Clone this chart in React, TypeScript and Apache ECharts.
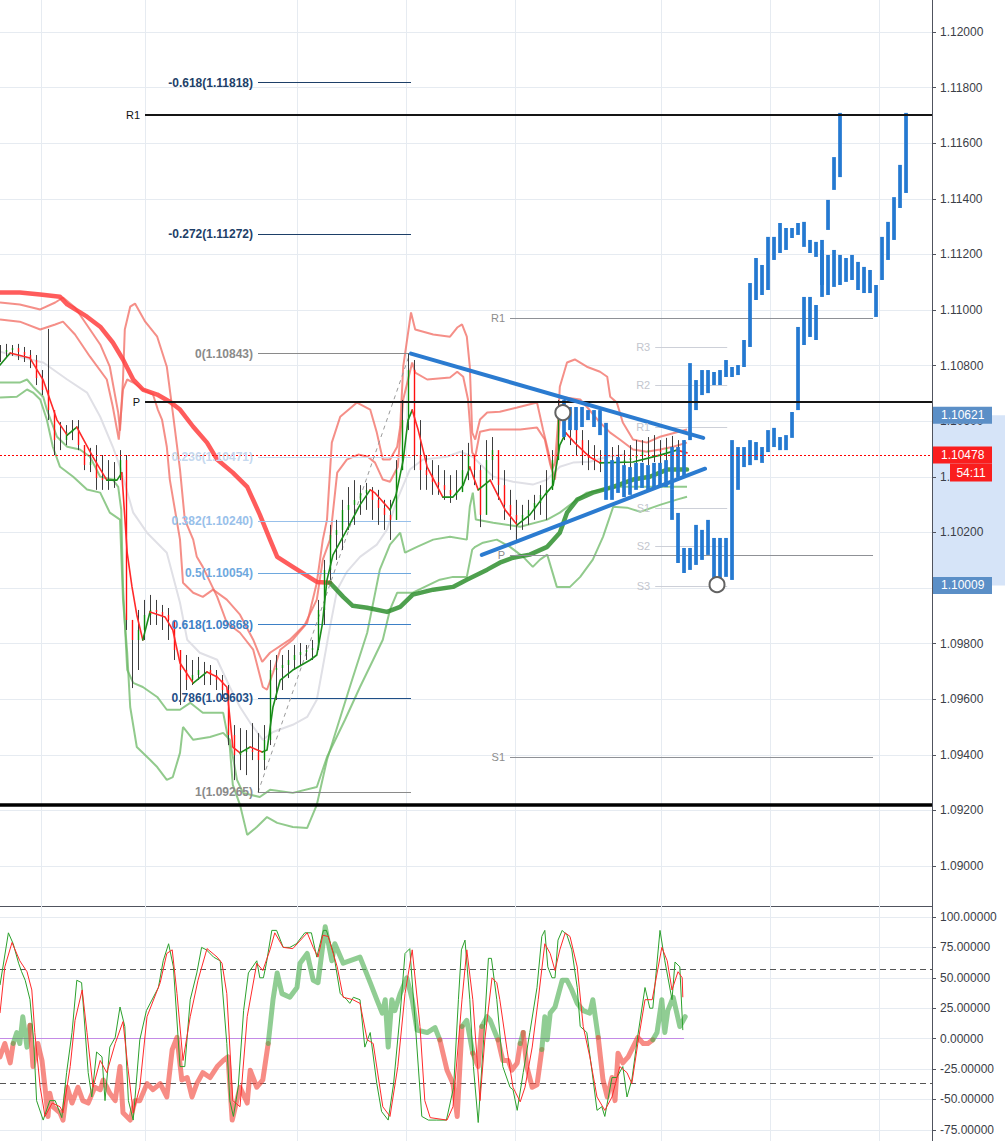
import React, { useEffect, useRef } from "react";
import * as echarts from "echarts";

// ---------------- axes ----------------
const X_MAX = 155.33;
const PRICE_MIN = 1.088561;
const PRICE_MAX = 1.121151;
const OSC_MIN = -84.2;
const OSC_MAX = 109.05;

const priceTicks = [1.09, 1.092, 1.094, 1.096, 1.098, 1.1, 1.102, 1.104, 1.106, 1.108, 1.11, 1.112, 1.114, 1.116, 1.118, 1.12];
// 1.10000 sits completely under the range-low tag in the reference, so its label is not drawn
const priceLabelTicks = [1.09, 1.092, 1.094, 1.096, 1.098, 1.102, 1.104, 1.106, 1.108, 1.11, 1.112, 1.114, 1.116, 1.118, 1.12];
const oscTicks = [-75, -50, -25, 0, 25, 50, 75, 100];
const sessionStarts = [6.83, 24.17, 49.5, 67.67, 85.83, 110.17, 128.33, 146.5];

// ---------------- main instrument bars [high, low, close] (bar index = position) ----------------
const mainBars = [
  [1.10874, 1.10813, 1.10849], [1.10878, 1.10827, 1.10856], [1.10874, 1.10835, 1.10863], [1.10878, 1.1082, 1.10849],
  [1.10867, 1.10813, 1.10838], [1.10856, 1.10791, 1.1082], [1.10838, 1.1073, 1.10755], [1.10784, 1.10694, 1.10712],
  [1.10932, 1.10604, 1.1064], [1.10604, 1.10478, 1.10532], [1.10597, 1.10496, 1.10532], [1.10586, 1.10514, 1.10561],
  [1.10604, 1.10532, 1.10568], [1.10604, 1.10496, 1.10514], [1.10514, 1.10424, 1.10442], [1.10504, 1.10417, 1.10453],
  [1.10514, 1.10353, 1.10396], [1.10478, 1.10353, 1.10388], [1.1046, 1.10353, 1.10388], [1.10453, 1.1036, 1.10396],
  [1.10496, 1.10388, 1.1046], [1.10478, 1.09849, 1.09885], [1.09885, 1.0964, 1.09813], [1.09921, 1.09705, 1.09849],
  [1.09957, 1.09813, 1.09903], [1.09975, 1.09867, 1.09921], [1.09957, 1.09867, 1.09914], [1.09939, 1.09849, 1.09903],
  [1.09928, 1.09813, 1.09885], [1.09885, 1.09741, 1.09777], [1.09759, 1.09579, 1.09705], [1.09759, 1.09633, 1.09669],
  [1.09741, 1.09651, 1.09687], [1.09752, 1.09669, 1.09705], [1.09734, 1.09651, 1.09705], [1.09723, 1.09651, 1.09687],
  [1.09705, 1.09633, 1.09669], [1.09687, 1.09597, 1.09633], [1.09651, 1.09435, 1.09471], [1.09507, 1.09309, 1.09399],
  [1.09496, 1.09345, 1.0941], [1.09489, 1.09327, 1.09417], [1.09514, 1.09381, 1.0941], [1.09478, 1.09265, 1.09381],
  [1.09507, 1.09345, 1.09453], [1.09741, 1.09435, 1.09705], [1.09759, 1.09597, 1.09712], [1.09759, 1.09633, 1.09723],
  [1.09777, 1.09676, 1.09741], [1.09795, 1.09705, 1.09759], [1.09802, 1.09723, 1.0977], [1.09795, 1.09741, 1.09777],
  [1.09813, 1.09741, 1.09784], [1.09957, 1.09777, 1.09921], [1.10101, 1.09867, 1.10065], [1.10227, 1.10029, 1.10191],
  [1.10245, 1.10101, 1.10209], [1.10317, 1.10137, 1.10281], [1.10363, 1.10209, 1.10299], [1.10388, 1.10227, 1.10317],
  [1.1037, 1.10263, 1.10342], [1.10378, 1.10281, 1.10353], [1.10363, 1.10245, 1.10317], [1.10353, 1.10227, 1.10288],
  [1.10317, 1.10209, 1.10263], [1.10317, 1.10173, 1.10245], [1.1046, 1.10245, 1.10424], [1.10676, 1.10424, 1.10604],
  [1.10843, 1.10568, 1.10784], [1.1082, 1.10424, 1.10478], [1.10604, 1.10353, 1.10424], [1.10478, 1.10353, 1.10406],
  [1.1046, 1.10335, 1.10381], [1.10442, 1.10335, 1.1037], [1.10424, 1.10317, 1.10353], [1.10406, 1.10306, 1.10335],
  [1.10424, 1.10317, 1.10345], [1.10496, 1.10353, 1.10424], [1.10522, 1.10388, 1.10478], [1.10478, 1.1037, 1.10424],
  [1.10442, 1.10219, 1.10263], [1.10532, 1.10317, 1.1046], [1.10543, 1.10388, 1.10496], [1.1046, 1.10317, 1.1037],
  [1.10424, 1.10245, 1.10299], [1.10353, 1.10209, 1.10263], [1.10317, 1.10162, 1.10245], [1.10299, 1.10209, 1.10263],
  [1.10317, 1.10227, 1.10281], [1.10335, 1.10245, 1.10306], [1.1037, 1.10263, 1.10335], [1.10424, 1.10245, 1.10353],
  [1.10496, 1.10353, 1.1046], [1.10676, 1.10496, 1.1064], [1.10683, 1.10532, 1.10586], [1.1064, 1.10514, 1.10568],
  [1.10604, 1.10478, 1.10532], [1.10568, 1.10442, 1.10478], [1.10532, 1.10424, 1.10468], [1.10514, 1.10424, 1.1046],
  [1.10496, 1.10417, 1.10453], [1.10496, 1.10424, 1.1045], [1.10507, 1.10432, 1.1046], [1.10514, 1.10417, 1.10453],
  [1.10496, 1.10424, 1.1046], [1.10514, 1.10432, 1.10468], [1.10532, 1.10442, 1.10478], [1.10532, 1.10453, 1.10489],
  [1.10543, 1.10442, 1.10496], [1.1055, 1.10453, 1.10496], [1.10532, 1.10442, 1.10489], [1.1054, 1.10453, 1.10504],
  [1.10547, 1.1046, 1.10496], [1.10532, 1.10442, 1.10478], [1.10532, 1.10442, 1.10482],
];

// ---------------- overlay instrument (blue) [high, low] ----------------
const blueAStart = 94;
const blueA = [
  [1.10676, 1.10543], [1.10651, 1.10568], [1.10651, 1.10568], [1.10651, 1.10579], [1.1064, 1.10604], [1.1064, 1.10579],
  [1.1064, 1.1055], [1.10594, 1.10317], [1.1046, 1.10317], [1.10471, 1.10342], [1.10442, 1.10327], [1.10435, 1.10335],
  [1.1045, 1.10353], [1.1045, 1.1036], [1.10442, 1.10353], [1.1045, 1.10363], [1.1045, 1.1037], [1.1046, 1.10363],
  [1.10507, 1.10353], [1.10507, 1.10396], [1.10532, 1.10396], [1.10809, 1.10532], [1.10748, 1.1064], [1.10784, 1.10694],
  [1.10784, 1.10701], [1.10777, 1.1073], [1.10784, 1.1073], [1.1082, 1.10759], [1.10795, 1.10759], [1.10802, 1.10766],
  [1.10892, 1.10795], [1.11097, 1.10867], [1.11187, 1.11036], [1.11162, 1.11054], [1.11263, 1.11072], [1.11263, 1.1118],
  [1.11313, 1.11205], [1.11295, 1.11216], [1.11295, 1.11259], [1.11313, 1.1127], [1.11317, 1.11227], [1.11252, 1.11205],
  [1.11245, 1.11191], [1.11216, 1.1109], [1.11396, 1.11288], [1.1155, 1.11432], [1.11709, 1.11478],
];
const blueBStart = 112;
const blueB = [
  [1.10353, 1.10245], [1.1027, 1.1009], [1.10144, 1.10054], [1.10144, 1.10065], [1.10227, 1.10083], [1.10209, 1.10101],
  [1.10245, 1.10119], [1.1018, 1.10036], [1.1018, 1.10011], [1.1018, 1.1004], [1.10532, 1.10029], [1.10507, 1.10353],
  [1.10507, 1.10435], [1.10532, 1.10442], [1.10525, 1.1046], [1.10507, 1.1045], [1.10568, 1.10489], [1.10576, 1.10507],
  [1.10543, 1.10496], [1.1055, 1.10496], [1.10633, 1.1054], [1.10939, 1.1064], [1.11047, 1.10874], [1.11047, 1.10903],
  [1.11018, 1.10892], [1.11252, 1.11047], [1.11198, 1.11054], [1.11216, 1.11083], [1.11198, 1.1109], [1.11187, 1.11101],
  [1.11198, 1.11108], [1.11173, 1.11072], [1.11155, 1.11061], [1.11144, 1.11061], [1.1109, 1.10975], [1.11263, 1.11108],
  [1.11317, 1.1118], [1.11406, 1.11252], [1.11522, 1.11367], [1.11709, 1.11421],
];

// ---------------- indicator lines [bar index, price] ----------------
const fastMa = [
  [0, 1.10802], [1.7, 1.10845], [5, 1.10827], [7.2, 1.10748], [9.5, 1.10604], [11.2, 1.1055], [12.8, 1.10579], [15.5, 1.10471],
  [17.8, 1.10388], [19.5, 1.10388], [20.3, 1.10414], [21.2, 1.10126], [22, 1.10004], [22.8, 1.09903], [23.8, 1.09813], [25, 1.09914],
  [27.5, 1.09896], [28.8, 1.09849], [30, 1.0973], [32.2, 1.09658], [34.5, 1.09698], [36.2, 1.0968], [37.8, 1.09644], [38.8, 1.09428],
  [40, 1.09407], [41.7, 1.09428], [43.7, 1.0941], [44.5, 1.09417], [45.5, 1.09572], [46.7, 1.09669], [48.8, 1.09705], [51.7, 1.09741],
  [52.8, 1.09759], [53.7, 1.09867], [54.5, 1.10029], [55.5, 1.10119], [57.8, 1.10209], [60, 1.10299], [61.7, 1.10353], [62.5, 1.10342],
  [65, 1.10281], [66, 1.10335], [67.2, 1.1046], [68, 1.10604], [68.7, 1.1064], [69.7, 1.10568], [71.2, 1.10435], [73.8, 1.10327],
  [75.5, 1.10327], [77.2, 1.1037], [78.3, 1.10435], [79.7, 1.10353], [81.7, 1.10388], [84.2, 1.10281], [86.2, 1.10227], [88.3, 1.10263],
  [90.8, 1.10335], [92.2, 1.1037], [93.3, 1.10514], [94.3, 1.10558], [95.8, 1.10522], [98.3, 1.10471], [100, 1.1045], [105.5, 1.10453],
  [110, 1.10478], [112.8, 1.10496], [114.5, 1.10486],
];
const slowMa = [
  [0, 1.11063], [3.3, 1.11063], [6.7, 1.11056], [10, 1.11048], [11.2, 1.1102], [14.5, 1.10976], [16.7, 1.1094], [18.8, 1.10883],
  [20.5, 1.10822], [22.2, 1.1075], [23.8, 1.10714], [26.2, 1.10696], [28.3, 1.1067], [30, 1.10642], [32.2, 1.1058], [34.5, 1.10523],
  [36.2, 1.10462], [38.8, 1.10415], [41.2, 1.10364], [43.3, 1.10264], [45, 1.10174], [46.2, 1.10112], [48.8, 1.10076], [52.8, 1.10022],
  [55, 1.10019], [57.2, 1.09968], [58.8, 1.09936], [61.2, 1.09929], [64.5, 1.09914], [66.7, 1.09932], [68.8, 1.09976], [72.2, 1.09994],
  [75.5, 1.10004], [77.8, 1.1003], [81.2, 1.10066], [83.3, 1.10091], [85.5, 1.10109], [88.3, 1.1012], [91.2, 1.10148], [93.3, 1.10199],
  [94.5, 1.10271], [96.2, 1.10318], [98.8, 1.10343], [102.2, 1.10364], [105.5, 1.1039], [108.3, 1.104], [111.2, 1.10426], [114.5, 1.10426],
];
const slowMaTurnIdx = 54.5;
const midBand = [
  [0, 1.1085], [5, 1.10822], [7.2, 1.10811], [11.2, 1.1075], [14.5, 1.10703], [16.7, 1.10616], [18.8, 1.10508], [20, 1.10436],
  [22.2, 1.10271], [24.5, 1.10199], [27.8, 1.10127], [30, 1.09947], [31.2, 1.09814], [33.3, 1.09767], [36.2, 1.09742], [38.3, 1.09644],
  [40, 1.09572], [41.7, 1.09515], [43.8, 1.09454], [45.5, 1.09482], [48.8, 1.09508], [51.2, 1.09536], [52.8, 1.09598], [53.8, 1.09716],
  [55, 1.0986], [56.2, 1.09994], [57.8, 1.10058], [60, 1.10112], [62.8, 1.10156], [64.5, 1.1021], [66.2, 1.10318], [68.3, 1.10426],
  [70.5, 1.10462], [74.5, 1.10472], [76.7, 1.1049], [78.8, 1.10472], [82.2, 1.104], [85.5, 1.10382], [88.8, 1.10372], [91.2, 1.1039],
  [93.3, 1.10436], [95.5, 1.10451], [98.3, 1.10454], [101.2, 1.10472], [104.2, 1.1048],
];
const upperOuter = [
  [0, 1.11027], [3.3, 1.1102], [6.7, 1.11002], [9.2, 1.11027], [10.5, 1.11045], [12.5, 1.11009], [15, 1.1093], [16.7, 1.10876],
  [18.3, 1.10796], [19.7, 1.10631], [20, 1.10566], [20.5, 1.1075], [20.8, 1.1093], [21.7, 1.11012], [22.5, 1.11023], [24.2, 1.10958],
  [26.2, 1.10904], [27.8, 1.10796], [28.8, 1.10631], [30, 1.10426], [30.8, 1.10246], [32.2, 1.10174], [32.8, 1.10112], [33.8, 1.10076],
  [36.2, 1.09968], [37.8, 1.09875], [40, 1.09839], [42.2, 1.09778], [43.8, 1.09644], [44.5, 1.09634], [45.5, 1.09695], [46.7, 1.09778],
  [48.8, 1.09814], [51.2, 1.09875], [52.8, 1.10019], [53.8, 1.10174], [54.5, 1.10246], [55.3, 1.10523], [56.7, 1.10616], [59.5, 1.10667],
  [61.7, 1.10642], [62.8, 1.10559], [63.8, 1.10462], [65, 1.10462], [66.2, 1.10508], [66.7, 1.1058], [67.2, 1.10796], [68.5, 1.10991],
  [69.2, 1.1093], [72.2, 1.10912], [75, 1.10904], [76.2, 1.10937], [77, 1.10948], [77.8, 1.10904], [78.3, 1.10796], [78.7, 1.10559],
  [79.2, 1.10534], [80, 1.10606], [81.2, 1.10631], [83.3, 1.10634], [86.2, 1.10649], [89.5, 1.10667], [90.5, 1.1057], [91.3, 1.10498],
  [92, 1.10426], [92.5, 1.10451], [93, 1.10595], [93.3, 1.10724], [94.5, 1.10811], [95.8, 1.10822], [97.8, 1.10796], [100, 1.10778],
  [101.2, 1.1076], [101.7, 1.10688], [102.8, 1.10667], [103.8, 1.10595], [105.5, 1.10534], [107.8, 1.10523], [110, 1.10544], [114.5, 1.1057],
];
const upperInner = [
  [0, 1.10966], [3.3, 1.10958], [6.7, 1.1093], [9.2, 1.10948], [10.5, 1.10958], [12.5, 1.10912], [15, 1.10832], [17.8, 1.1075],
  [18.8, 1.10652], [19.8, 1.10534], [20.5, 1.10714], [21.2, 1.1075], [22.2, 1.10739], [23.8, 1.10714], [25.5, 1.10696], [26.3, 1.10642],
  [27, 1.10606], [27.8, 1.10508], [28.3, 1.1039], [30, 1.10174], [30.5, 1.10019], [32.2, 1.09983], [33.8, 1.09968], [35.5, 1.09994],
  [37.8, 1.09958], [40, 1.09904], [42.2, 1.09814], [43.7, 1.09734], [45, 1.09767], [48.3, 1.09814], [50.8, 1.09868], [52.8, 1.09958],
  [53.8, 1.10102], [55, 1.10174], [56.2, 1.10415], [57.8, 1.10462], [59.7, 1.1048], [61.3, 1.10472], [62.5, 1.10451], [63.8, 1.1039],
  [65, 1.10382], [66.3, 1.10436], [67.2, 1.10678], [68.7, 1.10811], [69.2, 1.10775], [71.2, 1.1075], [75, 1.10757], [76.2, 1.10778],
  [77.2, 1.1076], [78, 1.10678], [78.7, 1.10487], [79.2, 1.10472], [80, 1.10562], [81.7, 1.1057], [86.7, 1.1057], [89.5, 1.10577],
  [90.8, 1.10534], [91.7, 1.10444], [92.5, 1.1039], [93.3, 1.10606], [94.2, 1.10685], [96.7, 1.10678], [97.8, 1.10652], [100, 1.10595],
  [101.7, 1.10559], [103.3, 1.10534], [105.5, 1.10498], [107.8, 1.1049], [110, 1.10498], [112.2, 1.10508], [114.5, 1.10523],
];
const lowerInner = [
  [0, 1.10739], [3.3, 1.10739], [4.5, 1.1075], [5.5, 1.10724], [7.2, 1.10688], [7.8, 1.10642], [9.5, 1.10544], [11.2, 1.10508],
  [13.3, 1.10498], [15, 1.10472], [16.7, 1.104], [18.8, 1.1039], [19.7, 1.10364], [20.2, 1.10282], [20.5, 1.10004], [21.2, 1.09706],
  [22.2, 1.09659], [23.8, 1.09644], [26.2, 1.09608], [27.8, 1.09562], [30, 1.09562], [31.7, 1.09587], [33.8, 1.09551], [37.2, 1.09551],
  [38.3, 1.09428], [38.8, 1.09292], [40, 1.0922], [41.2, 1.09112], [42.8, 1.0914], [44.5, 1.09176], [46.2, 1.09155], [48.8, 1.0914],
  [51.2, 1.09137], [52.8, 1.0922], [54.5, 1.09382], [58.3, 1.09644], [61.2, 1.09839], [63.3, 1.10066], [65, 1.10156], [66.7, 1.10199],
  [67.5, 1.10127], [69.5, 1.10148], [72.2, 1.10174], [75, 1.10184], [77.8, 1.10174], [78.3, 1.10292], [78.8, 1.10343], [79.3, 1.10246],
  [82.2, 1.10235], [86.7, 1.1022], [91.2, 1.10246], [93.3, 1.10271], [95.5, 1.10307], [97.8, 1.10343], [100.5, 1.10354], [103.3, 1.10364],
  [114.5, 1.10364],
];
const lowerOuter = [
  [0, 1.10685], [2.8, 1.10688], [4.5, 1.10714], [5.5, 1.10703], [6.7, 1.10678], [7.8, 1.10606], [8.8, 1.10508], [10, 1.10436],
  [12.2, 1.104], [14.5, 1.10354], [16.7, 1.10343], [18.3, 1.10271], [20, 1.10246], [20.5, 1.09958], [21.2, 1.09767], [21.7, 1.09572],
  [22.8, 1.09428], [25, 1.09382], [26.2, 1.09356], [27.8, 1.0931], [28.8, 1.0932], [30, 1.09407], [30.5, 1.095], [32.2, 1.09454],
  [35, 1.09464], [37.2, 1.09479], [38.3, 1.09454], [39.5, 1.0931], [40.5, 1.09263], [43.3, 1.09248], [45, 1.09274], [48.8, 1.09263],
  [52.8, 1.09284], [54.5, 1.09392], [57.5, 1.09526], [60, 1.09644], [62.2, 1.09742], [63.8, 1.09814], [65, 1.09922], [66.2, 1.09983],
  [68.8, 1.09983], [73.3, 1.1003], [75.5, 1.1004], [77.8, 1.1004], [78.7, 1.10138], [79.2, 1.10148], [80.5, 1.10163], [82.8, 1.10174],
  [85, 1.10148], [87.2, 1.10112], [88.8, 1.10076], [90, 1.10102], [91.2, 1.1012], [92.8, 1.10004], [95, 1.10004], [96.7, 1.1004],
  [98.8, 1.10102], [100.5, 1.10184], [102.2, 1.10292], [104.5, 1.10289], [106.7, 1.10274], [110, 1.10299], [112.8, 1.10318], [114.5, 1.10328],
];

// ---------------- levels ----------------
const fibLevels = [-0.618, -0.272, 0, 0.236, 0.382, 0.5, 0.618, 0.786, 1];
const fibPrices = [1.11818, 1.11272, 1.10843, 1.10471, 1.1024, 1.10054, 1.09868, 1.09603, 1.09265];
const fibSpan = [43, 68.5];
const fibSwing = [[43, 1.09265], [68.3, 1.10843]];

const keyLevelNames = ["R1", "P"];
const keyLevelPrices = [1.11701, 1.10669];
const keyLevelFrom = 24.17;
const supportLine = 1.09219;

const dailyPivotNames = ["R1", "P", "S1"];
const dailyPivotPrices = [1.10971, 1.10119, 1.09392];
const dailyPivotSpan = [85, 145.5];

const sessionPivotNames = ["R3", "R2", "R1", "S1", "S2", "S3"];
const sessionPivotPrices = [1.10867, 1.1073, 1.10579, 1.10288, 1.10151, 1.10007];
const sessionPivotSpan = [109.2, 121.2];

const trendLines = [
  [[68.5, 1.10843], [117.2, 1.1054]],
  [[80.3, 1.10119], [117.5, 1.10429]],
];
const swingPoints = [[93.8, 1.10631], [119.5, 1.10012]];

const lastPrice = 1.10478;
const countdown = "54:11";
const rangeHigh = 1.10621;
const rangeLow = 1.10009;

// ---------------- oscillator [bar index, value] ----------------
const oscUpper = 57.2;
const oscLower = -36.6;
const oscZeroEnd = 114;
const stochK = [
  [0, 44], [1.4, 87], [2.2, 78], [3.1, 62], [3.6, 55], [4.2, 48], [5, 32], [5.6, -1], [6.1, -51], [7.2, -67], [8.3, -51], [9.2, -51],
  [10.3, -65], [11.1, -28], [12, 5], [12.8, 48], [13.6, 46], [14.7, -28], [15.3, -48], [16.1, -11], [17, -15], [17.5, -51], [18.3, -7],
  [19.2, 1], [20, 26], [20.8, 10], [21.4, -51], [22.2, -67], [23.3, -1], [24.4, 23], [26.4, 42], [27.2, 64], [28.1, 78], [28.9, 59],
  [30, -23], [30.8, -23], [31.7, 32], [32.8, 54], [33.6, 75], [34.4, 73], [35.6, 67], [36.7, 64], [37.8, -4], [38.3, -51], [38.9, -64],
  [39.7, -40], [40.6, 23], [41.4, 54], [42.8, 64], [43.3, 50], [43.9, 50], [44.4, 62], [45.3, 89], [46.1, 89], [47.2, 75], [48.3, 75],
  [49.4, 78], [50.8, 87], [51.9, 87], [52.8, 67], [53.9, 89], [54.4, 89], [55.6, 70], [56.7, 37], [57.8, 32], [58.3, 29], [58.9, 34],
  [60, 32], [60.8, -7], [61.7, 5], [62.8, -37], [63.6, -60], [64.7, -67], [65.6, -37], [66.7, 21], [67.5, 70], [68.3, 74], [69.2, 13],
  [70.3, -64], [71.4, -67], [72.8, -67], [74.4, -67], [75.6, -40], [76.4, 32], [76.9, 73], [77.5, 81], [78.3, 32], [78.9, -23], [79.7, -69],
  [80.6, -1], [81.4, 66], [81.9, 66], [82.8, 32], [83.8, -23], [85, -40], [85.5, -42], [86.2, -59], [87.2, -28], [88.3, 5], [89.5, 42],
  [90.3, 84], [90.8, 89], [91.3, 59], [92, 50], [92.5, 50], [93, 81], [93.7, 89], [94.5, 85], [95.3, 73], [96.2, 42], [96.7, 10],
  [97.8, 5], [98.7, -28], [99.5, -59], [100.3, -56], [100.8, -64], [102, -32], [102.8, -32], [103.8, -23], [104.5, -48], [105.3, -34],
  [106.2, -1], [107.5, 42], [108.3, 25], [108.8, 25], [110, 89], [110.8, 64], [112, 32], [112.5, 63], [113.3, 59], [113.8, 7],
];
const stochD = [
  [0, 21], [0.8, 59], [2, 79], [3.3, 64], [4.5, 55], [5.3, 40], [5.8, 5], [6.7, -40], [7.5, -64], [8.7, -53], [10, -56], [10.5, -61],
  [11.7, -23], [12.5, 15], [13.7, 40], [14.5, 5], [15.5, -40], [16.7, -18], [17.8, -28], [19.2, -4], [20.5, 14], [21.3, -23], [22.2, -61],
  [23.3, -40], [24.5, 18], [26.7, 46], [27.8, 70], [28.7, 73], [29.5, 37], [30.5, -18], [31.7, 18], [33, 48], [34.5, 74], [36.2, 67],
  [37, 62], [37.8, 37], [38.8, -51], [40, -56], [41.2, 18], [42.8, 62], [43.8, 56], [45, 73], [45.8, 87], [47.2, 75], [48.8, 74],
  [51.2, 87], [52.2, 75], [53, 67], [53.8, 85], [54.7, 84], [56.2, 59], [57.2, 34], [58.8, 32], [60, 29], [61.2, -1], [62.2, -4],
  [63.8, -56], [65, -64], [66.3, -23], [67.5, 37], [68.7, 73], [70, 10], [70.8, -51], [71.7, -65], [74.5, -67], [75.5, -56], [77, 32],
  [77.8, 73], [78.8, 32], [80, -51], [80.8, -1], [82, 50], [82.8, 46], [83.3, 32], [84.5, -9], [85.5, -40], [86.7, -52], [87.5, -40],
  [88.7, -7], [89.7, 32], [90.8, 78], [91.7, 70], [92.5, 56], [93.3, 73], [94.2, 87], [95, 84], [96.2, 59], [97.2, 10], [98.3, -15],
  [99.5, -48], [100.8, -59], [102, -48], [103.3, -23], [104.5, -28], [105.3, -37], [106.3, -4], [107.5, 32], [108.7, 32], [110.3, 75],
  [111.2, 64], [112, 40], [113, 55], [113.7, 50], [113.8, 34],
];
const momentum = [
  [0, -15], [0.8, -4], [1.7, -20], [2.2, -4], [2.8, 5], [3.3, -4], [3.8, 18], [4.5, -7], [5, 11], [5.5, -23], [6.3, -4], [7, -18],
  [7.5, -40], [8, -64], [8.3, -45], [8.8, -56], [10, -61], [10.5, -67], [11.2, -40], [12, -53], [13, -40], [13.8, -51], [14.7, -53],
  [15.8, -40], [16.7, -42], [17.2, -34], [18.3, -45], [19.2, -51], [20, -23], [20.5, -61], [21.7, -67], [22.5, -51], [23.3, -51],
  [24.5, -37], [25.5, -42], [26.7, -37], [27.8, -48], [28.7, -9], [29.5, 1], [30.3, -34], [31.2, -32], [32, -48], [32.8, -37],
  [33.8, -28], [35, -32], [36.2, -23], [37.2, -18], [38, -15], [38.7, -67], [40, -40], [41.2, -53], [41.7, -26], [42.8, -40],
  [43.8, -34], [44.7, -4], [45.5, 32], [46.2, 54], [47, 37], [48.3, 34], [49.5, 42], [50, 62], [51.2, 70], [52.2, 48], [53, 46],
  [54.2, 92], [55.3, 64], [55.8, 78], [57.2, 62], [60, 67], [61.7, 46], [62.8, 32], [63.7, 21], [64.2, 32], [64.7, -7], [65.3, 32],
  [65.8, 23], [66.7, 37], [67.8, 50], [68.7, 32], [69.5, 7], [71.2, 5], [72.5, 9], [73.3, -1], [74.5, -26], [75.5, -37], [76.2, -64],
  [77, 10], [77.8, 15], [78.8, -12], [79.7, -23], [80.3, 10], [81.2, 18], [81.7, 15], [82.5, 5], [83, -1], [83.8, -18], [84.7, -18],
  [85.3, -26], [86.2, -20], [86.7, -4], [87.2, 5], [87.8, -23], [88.7, -40], [89.5, -38], [90.3, -9], [90.8, 18], [91.2, -1],
  [91.7, 21], [92.5, 26], [93.7, 48], [94.5, 48], [95.3, 40], [96.2, 29], [97.2, 23], [98.3, 21], [98.8, 32], [99.7, 1], [100.5, -34],
  [101.2, -48], [102, -32], [102.5, -51], [103, -12], [103.8, -20], [104.7, -15], [105.5, -7], [106.3, 1], [107.2, -4], [108, -4],
  [108.8, -1], [109.5, 5], [110.3, 32], [110.8, 5], [111.3, 23], [112.2, 34], [112.8, 21], [113.3, 10], [114.2, 18],
];

// ---------------- styling ----------------
const FONT = '"Liberation Sans", Arial, sans-serif';
const GRID_COLOR = "#e6ebf1";
const UP = "#1c8c1c";
const DOWN = "#ff2a2a";
const BLUE = "#2479d1";
const fibColors = ["#1d3f68", "#1d3f68", "#8a8a8a", "#c6d9ef", "#98c0ea", "#6ea8de", "#3d80c6", "#1f4f87", "#8a8a8a"];

type Pt = number[];
function colorRuns(points: Pt[], colorOf: (a: Pt, b: Pt) => string) {
  const out: any[] = [];
  let cur: Pt[] = [points[0]];
  let curColor = colorOf(points[0], points[1]);
  for (let k = 1; k < points.length; k++) {
    const col = colorOf(points[k - 1], points[k]);
    if (col !== curColor) {
      out.push({ coords: cur, lineStyle: { color: curColor } });
      cur = [points[k - 1]];
      curColor = col;
    }
    cur.push(points[k]);
  }
  out.push({ coords: cur, lineStyle: { color: curColor } });
  return out;
}

const seg = (a: Pt, b: Pt, style: any) => ({ coords: [a, b], lineStyle: style });

function buildOption(): any {
  const mainGrid = [
    ...priceTicks.map((p) => seg([0, p], [X_MAX, p], { color: GRID_COLOR })),
    ...sessionStarts.map((s) => seg([s, PRICE_MIN], [s, PRICE_MAX], { color: GRID_COLOR })),
  ];
  const oscGrid = [
    ...oscTicks.map((v) => seg([0, v], [X_MAX, v], { color: GRID_COLOR })),
    ...sessionStarts.map((s) => seg([s, OSC_MIN], [s, OSC_MAX], { color: GRID_COLOR })),
  ];

  const fibLines = [
    ...fibPrices.map((p, k) => seg([fibSpan[0], p], [fibSpan[1], p], { color: fibColors[k], width: 1 })),
    seg(fibSwing[0], fibSwing[1], { color: "#9a9a9a", width: 1, type: [4, 4] }),
  ];
  const pivotLines = [
    ...dailyPivotPrices.map((p) => seg([dailyPivotSpan[0], p], [dailyPivotSpan[1], p], { color: "#8f9196", width: 1 })),
    ...sessionPivotPrices.map((p) => seg([sessionPivotSpan[0], p], [sessionPivotSpan[1], p], { color: "#cdd0d8", width: 1 })),
  ];
  const keyLines = [
    ...keyLevelPrices.map((p) => seg([keyLevelFrom, p], [X_MAX, p], { color: "#151515", width: 2 })),
    seg([0, supportLine], [X_MAX, supportLine], { color: "#000", width: 3.5 }),
  ];
  const lastLine = [seg([0, lastPrice], [X_MAX, lastPrice], { color: "#ff0000", width: 1, type: [2, 2] })];

  const barData = mainBars.map((b, k) => [k, b[0], b[1], k > 0 ? mainBars[k - 1][2] : b[2], b[2]]);
  const blueData = [
    ...blueA.map((b, k) => [blueAStart + k, b[0], b[1]]),
    ...blueB.map((b, k) => [blueBStart + k, b[0], b[1]]),
  ];

  const labels: any[] = [
    ...fibLevels.map((lv, k) => ({ at: [fibSpan[0], fibPrices[k]], text: `${lv}(${fibPrices[k].toFixed(5)})`, color: fibColors[k], bold: true, size: 12 })),
    ...keyLevelNames.map((n, k) => ({ at: [keyLevelFrom, keyLevelPrices[k]], text: n, color: "#111", size: 11 })),
    ...dailyPivotNames.map((n, k) => ({ at: [dailyPivotSpan[0], dailyPivotPrices[k]], text: n, color: "#8c8c8c", size: 11 })),
    ...sessionPivotNames.map((n, k) => ({ at: [sessionPivotSpan[0], sessionPivotPrices[k]], text: n, color: "#c3c6ce", size: 11 })),
  ];

  const tags = [
    { price: rangeHigh, text: rangeHigh.toFixed(5), bg: "#5b8fc7" },
    { price: lastPrice, text: lastPrice.toFixed(5), bg: "#fa1e1e", sub: countdown },
    { price: rangeLow, text: rangeLow.toFixed(5), bg: "#5b8fc7" },
  ];

  const g0 = { xAxisIndex: 0, yAxisIndex: 0 };
  const g1 = { xAxisIndex: 1, yAxisIndex: 1 };
  const linesBase = { type: "lines", coordinateSystem: "cartesian2d", silent: true, polyline: false, symbol: "none" };

  const yAxisCommon = {
    type: "value",
    position: "right",
    axisLine: { show: true, onZero: false, lineStyle: { color: "#50535e", width: 1 } },
    splitLine: { show: false },
  };

  return {
    animation: false,
    backgroundColor: "#ffffff",
    textStyle: { fontFamily: FONT },
    grid: [
      { left: 0, top: 0, width: 932, height: 906 },
      { left: 0, top: 906, width: 932, height: 235 },
    ],
    xAxis: [
      { gridIndex: 0, type: "value", min: 0, max: X_MAX, show: false },
      {
        gridIndex: 1, type: "value", min: 0, max: X_MAX, position: "top",
        axisLine: { show: true, onZero: false, lineStyle: { color: "#50535e" } },
        axisTick: { show: false }, axisLabel: { show: false }, splitLine: { show: false },
      },
    ],
    yAxis: [
      {
        ...yAxisCommon, gridIndex: 0, min: PRICE_MIN, max: PRICE_MAX,
        axisTick: { show: true, length: 4, customValues: priceTicks, lineStyle: { color: "#50535e" } },
        axisLabel: { customValues: priceLabelTicks, formatter: (v: number) => v.toFixed(5), color: "#3b3e47", fontSize: 12, margin: 8, fontFamily: FONT },
      },
      {
        ...yAxisCommon, gridIndex: 1, min: OSC_MIN, max: OSC_MAX,
        axisTick: { show: true, length: 4, customValues: oscTicks, lineStyle: { color: "#50535e" } },
        axisLabel: { customValues: oscTicks, formatter: (v: number) => v.toFixed(5), color: "#3b3e47", fontSize: 12, margin: 8, fontFamily: FONT },
      },
    ],
    series: [
      // axis highlight band (behind axis labels)
      {
        type: "custom", ...g0, z: -1, clip: false, silent: true, data: [[X_MAX, rangeHigh]],
        renderItem: (_p: any, api: any) => {
          const a = api.coord([X_MAX, rangeHigh]);
          const b = api.coord([X_MAX, rangeLow]);
          return { type: "rect", shape: { x: a[0] + 1, y: a[1], width: 80, height: b[1] - a[1] }, style: { fill: "#d6e4f8" } };
        },
      },
      { ...linesBase, ...g0, z: 1, lineStyle: { width: 1, opacity: 1 }, data: mainGrid },
      { ...linesBase, ...g1, z: 1, lineStyle: { width: 1, opacity: 1 }, data: oscGrid },
      // bands and middle line
      { type: "line", ...g0, z: 2, silent: true, showSymbol: false, symbol: "none", data: midBand, lineStyle: { color: "#e0e0e6", width: 2 } },
      { type: "line", ...g0, z: 2, silent: true, showSymbol: false, symbol: "none", data: upperOuter, lineStyle: { color: "#f26a60", width: 2, opacity: 0.75 } },
      { type: "line", ...g0, z: 2, silent: true, showSymbol: false, symbol: "none", data: upperInner, lineStyle: { color: "#f26a60", width: 2, opacity: 0.75 } },
      { type: "line", ...g0, z: 2, silent: true, showSymbol: false, symbol: "none", data: lowerInner, lineStyle: { color: "#6cb866", width: 2, opacity: 0.75 } },
      { type: "line", ...g0, z: 2, silent: true, showSymbol: false, symbol: "none", data: lowerOuter, lineStyle: { color: "#6cb866", width: 2, opacity: 0.75 } },
      // slow moving average (coloured by trend side)
      {
        ...linesBase, polyline: true, ...g0, z: 3,
        lineStyle: { width: 4.5, opacity: 0.85, cap: "round", join: "round" },
        data: colorRuns(slowMa, (a, b) => ((a[0] + b[0]) / 2 < slowMaTurnIdx ? "#ff4040" : "#2f8f2f")),
      },
      { ...linesBase, ...g0, z: 3, lineStyle: { width: 1, opacity: 1 }, data: [...fibLines, ...pivotLines] },
      // price bars
      {
        type: "custom", ...g0, z: 4, silent: true, data: barData,
        renderItem: (_p: any, api: any) => {
          const i = api.value(0);
          const h = api.coord([i, api.value(1)]);
          const l = api.coord([i, api.value(2)]);
          const o = api.coord([i, api.value(3)]);
          const c = api.coord([i, api.value(4)]);
          const x = Math.round(h[0]) + 0.5;
          const up = api.value(4) >= api.value(3);
          return {
            type: "group",
            children: [
              { type: "line", shape: { x1: x, y1: h[1], x2: x, y2: l[1] }, style: { stroke: "#3d3d3d", lineWidth: 1 } },
              { type: "line", shape: { x1: x, y1: o[1], x2: x, y2: c[1] }, style: { stroke: up ? "#0a8a0a" : "#ff1010", lineWidth: 1.4 } },
            ],
          };
        },
      },
      // fast moving average (coloured by slope)
      {
        ...linesBase, polyline: true, ...g0, z: 5,
        lineStyle: { width: 1.6, opacity: 1, cap: "round", join: "round" },
        data: colorRuns(fastMa, (a, b) => (b[1] >= a[1] ? UP : DOWN)),
      },
      // overlay blue bars
      {
        type: "custom", ...g0, z: 6, silent: true, data: blueData,
        renderItem: (_p: any, api: any) => {
          const i = api.value(0);
          const h = api.coord([i, api.value(1)]);
          const l = api.coord([i, api.value(2)]);
          const w = api.size([1, 0])[0] * 0.62;
          return { type: "rect", shape: { x: h[0] - w / 2, y: h[1], width: w, height: Math.max(2, l[1] - h[1]) }, style: { fill: BLUE } };
        },
      },
      { ...linesBase, ...g0, z: 7, lineStyle: { width: 1, opacity: 1 }, data: [...keyLines, ...lastLine] },
      {
        ...linesBase, ...g0, z: 8,
        lineStyle: { width: 4, opacity: 1, color: "#2b7bd0", cap: "round" },
        data: trendLines.map((t) => ({ coords: t })),
      },
      {
        type: "scatter", ...g0, z: 9, silent: true, data: swingPoints, symbol: "circle", symbolSize: 15,
        itemStyle: { color: "#ffffff", borderColor: "#626262", borderWidth: 2, opacity: 1 },
      },
      // text labels for levels
      {
        type: "custom", ...g0, z: 10, clip: false, silent: true, data: labels.map((l) => l.at),
        renderItem: (p: any, api: any) => {
          const lb = labels[p.dataIndex];
          const pt = api.coord(lb.at);
          return {
            type: "text", x: pt[0] - 5, y: pt[1],
            style: {
              text: lb.text, fill: lb.color, align: "right", verticalAlign: "middle",
              textAlign: "right", textVerticalAlign: "middle",
              font: `${lb.bold ? "bold " : ""}${lb.size}px ${FONT}`,
            },
          };
        },
      },
      // axis price tags
      {
        type: "custom", ...g0, z: 20, clip: false, silent: true, data: tags.map((t) => [X_MAX, t.price]),
        renderItem: (p: any, api: any) => {
          const t: any = tags[p.dataIndex];
          const pt = api.coord([X_MAX, t.price]);
          const children: any[] = [
            { type: "rect", shape: { x: pt[0] + 1, y: pt[1] - 8.5, width: 59, height: 17 }, style: { fill: t.bg } },
            {
              type: "text", x: pt[0] + 9, y: pt[1],
              style: { text: t.text, fill: "#ffffff", align: "left", verticalAlign: "middle", textAlign: "left", textVerticalAlign: "middle", font: `12px ${FONT}` },
            },
          ];
          if (t.sub) {
            children.push({ type: "rect", shape: { x: pt[0] + 18, y: pt[1] + 8.5, width: 42, height: 18 }, style: { fill: t.bg } });
            children.push({
              type: "text", x: pt[0] + 39, y: pt[1] + 17.5,
              style: { text: t.sub, fill: "#ffffff", align: "center", verticalAlign: "middle", textAlign: "center", textVerticalAlign: "middle", font: `12px ${FONT}` },
            });
          }
          return { type: "group", children };
        },
      },
      // oscillator panel
      {
        ...linesBase, ...g1, z: 2, lineStyle: { width: 1, opacity: 1 },
        data: [
          seg([0, oscUpper], [X_MAX, oscUpper], { color: "#555", type: [6, 4] }),
          seg([0, oscLower], [X_MAX, oscLower], { color: "#555", type: [6, 4] }),
          seg([0, 0], [oscZeroEnd, 0], { color: "#c48be6" }),
        ],
      },
      {
        ...linesBase, polyline: true, ...g1, z: 3,
        lineStyle: { width: 5, opacity: 0.62, cap: "round", join: "round" },
        data: colorRuns(momentum, (a, b) => ((a[1] + b[1]) / 2 >= 0 ? "#4caf50" : "#f2453a")),
      },
      { type: "line", ...g1, z: 4, silent: true, showSymbol: false, symbol: "none", data: stochK, lineStyle: { color: "#2ca02c", width: 1 } },
      { type: "line", ...g1, z: 4, silent: true, showSymbol: false, symbol: "none", data: stochD, lineStyle: { color: "#ff2a2a", width: 1 } },
    ],
  };
}

export default function App() {
  const ref = useRef<HTMLDivElement>(null);
  useEffect(() => {
    document.body.style.margin = "0";
    if (!ref.current) return;
    const chart = echarts.init(ref.current, undefined, { renderer: "svg" });
    chart.setOption(buildOption());
    return () => chart.dispose();
  }, []);
  return <div ref={ref} style={{ width: 1005, height: 1141 }} />;
}
